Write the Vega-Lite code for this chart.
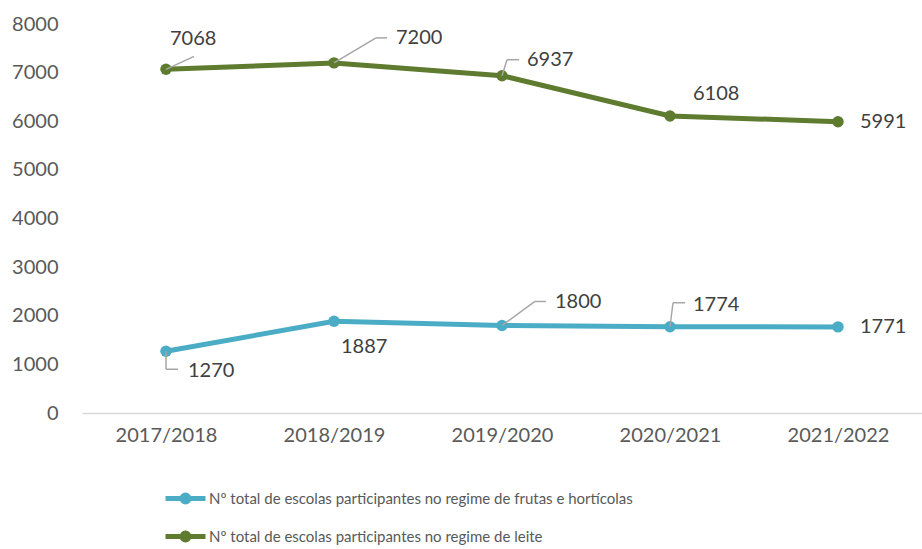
{
  "$schema": "https://vega.github.io/schema/vega-lite/v6.json",
  "autosize": {"type": "none"},
  "padding": {"left": 82, "top": 24, "right": 0, "bottom": 136},
  "width": 840,
  "height": 389,
  "background": "white",
  "config": {
    "view": {"stroke": null},
    "font": "Lato",
    "axis": {"labelFont": "Lato", "labelColor": "#595959", "labelFontSize": 20, "grid": false, "ticks": false, "title": null}
  },
  "data": {
    "values": [
      {"ano": "2017/2018", "serie": "Nº total de escolas participantes no regime de frutas e hortícolas", "valor": 1270},
      {"ano": "2018/2019", "serie": "Nº total de escolas participantes no regime de frutas e hortícolas", "valor": 1887},
      {"ano": "2019/2020", "serie": "Nº total de escolas participantes no regime de frutas e hortícolas", "valor": 1800},
      {"ano": "2020/2021", "serie": "Nº total de escolas participantes no regime de frutas e hortícolas", "valor": 1774},
      {"ano": "2021/2022", "serie": "Nº total de escolas participantes no regime de frutas e hortícolas", "valor": 1771},
      {"ano": "2017/2018", "serie": "Nº total de escolas participantes no regime de leite", "valor": 7068},
      {"ano": "2018/2019", "serie": "Nº total de escolas participantes no regime de leite", "valor": 7200},
      {"ano": "2019/2020", "serie": "Nº total de escolas participantes no regime de leite", "valor": 6937},
      {"ano": "2020/2021", "serie": "Nº total de escolas participantes no regime de leite", "valor": 6108},
      {"ano": "2021/2022", "serie": "Nº total de escolas participantes no regime de leite", "valor": 5991}
    ]
  },
  "encoding": {
    "x": {"field": "ano", "type": "ordinal", "scale": {"type": "point", "padding": 0.5},
      "axis": {"labelAngle": 0, "domainColor": "#d9d9d9", "domainWidth": 1.5, "labelPadding": 12}},
    "y": {"field": "valor", "type": "quantitative", "scale": {"domain": [0, 8000], "nice": false},
      "axis": {"values": [0, 1000, 2000, 3000, 4000, 5000, 6000, 7000, 8000], "format": "d", "domain": false, "labelPadding": 24}}
  },
  "layer": [
    {
      "mark": {"type": "line", "strokeWidth": 5},
      "encoding": {
        "color": {"field": "serie", "type": "nominal",
          "scale": {"domain": ["Nº total de escolas participantes no regime de frutas e hortícolas", "Nº total de escolas participantes no regime de leite"], "range": ["#4BACC6", "#5E7B2F"]},
          "legend": {"orient": "none", "legendX": 81, "legendY": 452, "direction": "vertical", "title": null,
            "symbolType": "M-1,0L1,0M-0.17,0A0.17,0.17,0,1,0,0.17,0A0.17,0.17,0,1,0,-0.17,0Z",
            "symbolSize": 1600, "symbolStrokeWidth": 5, "labelFont": "Lato", "labelFontSize": 15, "labelColor": "#595959",
            "labelOffset": 1, "rowPadding": 2, "labelLimit": 0,
            "encode": {"symbols": {"update": {"fill": {"signal": "scale('color', datum.value)"}, "opacity": {"value": 1}}}}}
        }
      }
    },
    {
      "mark": {"type": "point", "filled": true, "size": 130, "opacity": 1},
      "encoding": {"color": {"field": "serie", "type": "nominal", "legend": null}}
    },
    {"transform": [{"filter": {"field": "valor", "equal": 7068}}],
     "mark": {"type": "rule", "color": "#a6a6a6", "strokeWidth": 1.5, "x2Offset": 28, "y2Offset": -13},
     "encoding": {"x2": {"field": "ano"}, "y2": {"field": "valor"}}},
    {"transform": [{"filter": {"field": "valor", "equal": 7200}}],
     "mark": {"type": "rule", "color": "#a6a6a6", "strokeWidth": 1.5, "x2Offset": 42, "y2Offset": -25},
     "encoding": {"x2": {"field": "ano"}, "y2": {"field": "valor"}}},
    {"transform": [{"filter": {"field": "valor", "equal": 7200}}],
     "mark": {"type": "rule", "color": "#a6a6a6", "strokeWidth": 1.5, "xOffset": 42, "yOffset": -25, "x2Offset": 53, "y2Offset": -25},
     "encoding": {"x2": {"field": "ano"}, "y2": {"field": "valor"}}},
    {"transform": [{"filter": {"field": "valor", "equal": 6937}}],
     "mark": {"type": "rule", "color": "#a6a6a6", "strokeWidth": 1.5, "x2Offset": 5, "y2Offset": -16},
     "encoding": {"x2": {"field": "ano"}, "y2": {"field": "valor"}}},
    {"transform": [{"filter": {"field": "valor", "equal": 6937}}],
     "mark": {"type": "rule", "color": "#a6a6a6", "strokeWidth": 1.5, "xOffset": 5, "yOffset": -16, "x2Offset": 17, "y2Offset": -16},
     "encoding": {"x2": {"field": "ano"}, "y2": {"field": "valor"}}},
    {"transform": [{"filter": {"field": "valor", "equal": 1270}}],
     "mark": {"type": "rule", "color": "#a6a6a6", "strokeWidth": 1.5, "x2Offset": 0, "y2Offset": 18},
     "encoding": {"x2": {"field": "ano"}, "y2": {"field": "valor"}}},
    {"transform": [{"filter": {"field": "valor", "equal": 1270}}],
     "mark": {"type": "rule", "color": "#a6a6a6", "strokeWidth": 1.5, "xOffset": 0, "yOffset": 18, "x2Offset": 12, "y2Offset": 18},
     "encoding": {"x2": {"field": "ano"}, "y2": {"field": "valor"}}},
    {"transform": [{"filter": {"field": "valor", "equal": 1800}}],
     "mark": {"type": "rule", "color": "#a6a6a6", "strokeWidth": 1.5, "x2Offset": 33, "y2Offset": -24},
     "encoding": {"x2": {"field": "ano"}, "y2": {"field": "valor"}}},
    {"transform": [{"filter": {"field": "valor", "equal": 1800}}],
     "mark": {"type": "rule", "color": "#a6a6a6", "strokeWidth": 1.5, "xOffset": 33, "yOffset": -24, "x2Offset": 44, "y2Offset": -24},
     "encoding": {"x2": {"field": "ano"}, "y2": {"field": "valor"}}},
    {"transform": [{"filter": {"field": "valor", "equal": 1774}}],
     "mark": {"type": "rule", "color": "#a6a6a6", "strokeWidth": 1.5, "x2Offset": 3, "y2Offset": -24},
     "encoding": {"x2": {"field": "ano"}, "y2": {"field": "valor"}}},
    {"transform": [{"filter": {"field": "valor", "equal": 1774}}],
     "mark": {"type": "rule", "color": "#a6a6a6", "strokeWidth": 1.5, "xOffset": 3, "yOffset": -24, "x2Offset": 15, "y2Offset": -24},
     "encoding": {"x2": {"field": "ano"}, "y2": {"field": "valor"}}},
    {"transform": [{"filter": {"field": "valor", "oneOf": [6108, 1774]}}],
     "mark": {"type": "text", "align": "left", "baseline": "middle", "font": "Lato", "fontSize": 20, "color": "#404040", "dx": 23, "dy": -22},
     "encoding": {"text": {"field": "valor", "type": "quantitative"}}},
    {"transform": [{"filter": {"field": "valor", "oneOf": [5991, 1771]}}],
     "mark": {"type": "text", "align": "left", "baseline": "middle", "font": "Lato", "fontSize": 20, "color": "#404040", "dx": 22, "dy": 0},
     "encoding": {"text": {"field": "valor", "type": "quantitative"}}},
    {"transform": [{"filter": {"field": "valor", "equal": 1270}}],
     "mark": {"type": "text", "align": "left", "baseline": "middle", "font": "Lato", "fontSize": 20, "color": "#404040", "dx": 22, "dy": 20},
     "encoding": {"text": {"field": "valor", "type": "quantitative"}}},
    {"transform": [{"filter": {"field": "valor", "equal": 1887}}],
     "mark": {"type": "text", "align": "left", "baseline": "middle", "font": "Lato", "fontSize": 20, "color": "#404040", "dx": 7, "dy": 26},
     "encoding": {"text": {"field": "valor", "type": "quantitative"}}},
    {"transform": [{"filter": {"field": "valor", "equal": 7068}}],
     "mark": {"type": "text", "align": "left", "baseline": "middle", "font": "Lato", "fontSize": 20, "color": "#404040", "dx": 4, "dy": -30},
     "encoding": {"text": {"field": "valor", "type": "quantitative"}}},
    {"transform": [{"filter": {"field": "valor", "equal": 7200}}],
     "mark": {"type": "text", "align": "left", "baseline": "middle", "font": "Lato", "fontSize": 20, "color": "#404040", "dx": 62, "dy": -25},
     "encoding": {"text": {"field": "valor", "type": "quantitative"}}},
    {"transform": [{"filter": {"field": "valor", "equal": 1800}}],
     "mark": {"type": "text", "align": "left", "baseline": "middle", "font": "Lato", "fontSize": 20, "color": "#404040", "dx": 53, "dy": -23},
     "encoding": {"text": {"field": "valor", "type": "quantitative"}}},
    {"transform": [{"filter": {"field": "valor", "equal": 6937}}],
     "mark": {"type": "text", "align": "left", "baseline": "middle", "font": "Lato", "fontSize": 20, "color": "#404040", "dx": 25, "dy": -16},
     "encoding": {"text": {"field": "valor", "type": "quantitative"}}}
  ]
}
